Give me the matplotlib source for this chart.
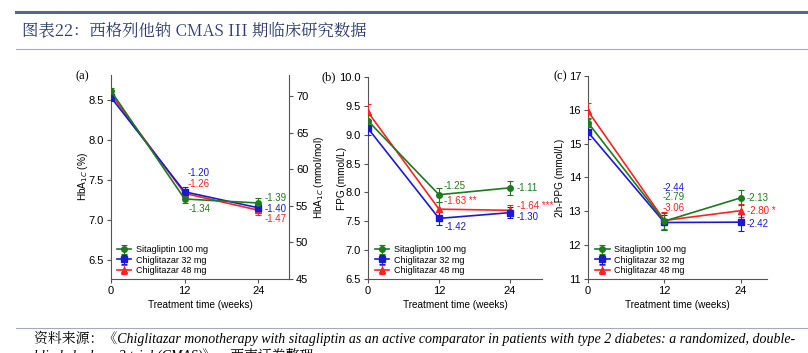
import numpy as np
import matplotlib
matplotlib.use('Agg')
import matplotlib.pyplot as plt

plt.rcParams['font.family'] = ['Liberation Sans', 'DejaVu Sans']

# data
weeks = [0, 12, 24]
series = ['Sitagliptin 100 mg', 'Chiglitazar 32 mg', 'Chiglitazar 48 mg']
colors = ['#1e7a1e', '#1a1ad6', '#ff2222']
markers = ['o', 's', '^']

hba1c = [[8.61, 7.26, 7.21], [8.53, 7.35, 7.15], [8.57, 7.33, 7.12]]
hba1c_err = [[0.04, 0.05, 0.06], [0.04, 0.06, 0.05], [0.04, 0.05, 0.06]]
fpg = [[9.24, 7.96, 8.08], [9.11, 7.55, 7.65], [9.39, 7.71, 7.69]]
fpg_err = [[0.10, 0.12, 0.12], [0.12, 0.11, 0.10], [0.14, 0.12, 0.10]]
ppg = [[15.62, 12.71, 13.40], [15.34, 12.67, 12.68], [15.96, 12.73, 13.02]]
ppg_err = [[0.13, 0.25, 0.22], [0.20, 0.22, 0.25], [0.23, 0.24, 0.20]]

# change labels: (series index, week index, text, dx pt, dy pt)
hba1c_lbl = [(1, 1, '-1.20', 2, 13.5), (2, 1, '-1.26', 2, 6.8), (0, 1, '-1.34', 2.5, -7.2),
             (0, 2, '-1.39', 4.3, 3.6), (1, 2, '-1.40', 4.3, -0.9), (2, 2, '-1.47', 4.3, -6.5)]
fpg_lbl = [(0, 1, '-1.25', 3.6, 6.5), (2, 1, '-1.63 **', 3.6, 5.8), (1, 1, '-1.42', 4, -6),
           (0, 2, '-1.11', 4.8, 0), (2, 2, '-1.64 ***', 4.8, 2.9), (1, 2, '-1.30', 4.8, -2.9)]
ppg_lbl = [(1, 1, '-2.44', -1, 25), (0, 1, '-2.79', -1, 17.2), (2, 1, '-3.06', -1, 9.2),
           (0, 2, '-2.13', 4.3, 0), (2, 2, '-2.80 *', 4.3, 0), (1, 2, '-2.42', 4.3, -1.3)]

W, H = 808, 353
fig = plt.figure(figsize=(W / 100, H / 100), dpi=100)

def px_axes(l, t, r, b):
    return fig.add_axes([l / W, 1 - b / H, (r - l) / W, (b - t) / H])

spine_c = '#555555'

def style_ticks(ax):
    ax.tick_params(labelsize=8, color=spine_c, length=3, width=0.8, pad=2)

def panel(ax, data, err, labels, ylim, yticks, ylabel, xmax, leg_x, lab_x):
    for i in range(3):
        ax.errorbar(weeks, data[i], yerr=err[i], color=colors[i], marker=markers[i],
                    markersize=4, lw=1.2, capsize=2.5, elinewidth=0.8, capthick=0.8,
                    label=series[i], zorder=3 - i * 0.1)
    for si, wi, txt, dx, dy in labels:
        ax.annotate(txt, (weeks[wi], data[si][wi]), xytext=(dx, dy), textcoords='offset points',
                    color=colors[si], fontsize=7, va='center', ha='left')
    ax.set_xlim(0, xmax)
    ax.set_ylim(*ylim)
    ax.set_xticks(weeks)
    ax.set_yticks(yticks)
    ax.set_ylabel(ylabel, fontsize=7.2)
    ax.yaxis.set_label_coords(lab_x, 0.5)
    ax.set_xlabel('Treatment time (weeks)', fontsize=7.2, labelpad=3)
    ax.spines['top'].set_visible(False)
    ax.spines['right'].set_visible(False)
    for s in ax.spines.values():
        s.set_color(spine_c)
        s.set_linewidth(0.8)
    style_ticks(ax)
    ax.legend(loc='lower left', frameon=False, fontsize=6.5, handlelength=1.6,
              handletextpad=0.5, labelspacing=0.15, borderaxespad=0, borderpad=0,
              bbox_to_anchor=(leg_x, 0.02))

ax1 = px_axes(111, 75, 289, 279)
panel(ax1, hba1c, hba1c_err, hba1c_lbl, (6.26, 8.81), [6.5, 7.0, 7.5, 8.0, 8.5],
      'HbA$_{1C}$ (%)', 29, 0.034, -0.118)
ax1r = ax1.twinx()
ax1r.set_ylim(45, 72.9)
ax1r.set_yticks([45, 50, 55, 60, 65, 70])
ax1r.set_ylabel('HbA$_{1C}$ (mmol/mol)', fontsize=7.2)
ax1r.yaxis.set_label_coords(1.13, 0.5)
for k in ['top', 'left', 'bottom']:
    ax1r.spines[k].set_visible(False)
ax1r.spines['right'].set_color(spine_c)
ax1r.spines['right'].set_linewidth(0.8)
style_ticks(ax1r)

ax2 = px_axes(368, 77, 542, 279)
panel(ax2, fpg, fpg_err, fpg_lbl, (6.5, 10.0), [6.5, 7.0, 7.5, 8.0, 8.5, 9.0, 9.5, 10.0],
      'FPG (mmol/L)', 29.4, 0.04, -0.12)

ax3 = px_axes(588, 76, 767, 279)
panel(ax3, ppg, ppg_err, ppg_lbl, (11, 17), [11, 12, 13, 14, 15, 16, 17],
      '2h-PPG (mmol/L)', 28.1, 0.04, -0.128)

# panel tags
for tag, x, y in [('(a)', 76, 76), ('(b)', 321, 77), ('(c)', 554, 76)]:
    fig.text(x / W, 1 - y / H, tag, fontsize=9, family=['Liberation Serif'],
             va='center', ha='left')

# header and footer
fig.add_artist(plt.Line2D([16 / W, 1], [1 - 12 / H] * 2, color='#5b6494', lw=2.2))
fig.add_artist(plt.Line2D([16 / W, 1], [1 - 49 / H] * 2, color='#a3a8c4', lw=0.8))
fig.add_artist(plt.Line2D([16 / W, 1], [1 - 328 / H] * 2, color='#a3a8c4', lw=0.8))
cjk = ['Noto Serif CJK SC', 'Noto Sans CJK SC', 'DejaVu Sans']
src = ['Liberation Serif', 'Noto Serif CJK SC', 'Noto Sans CJK SC']
fig.text(22 / W, 1 - 31 / H, '图表22：西格列他钠 CMAS III 期临床研究数据', fontsize=11.8,
         color='#2b3a6b', family=cjk, va='center')
fig.text(34 / W, 1 - 338 / H,
         '资料来源：《Chiglitazar monotherapy with sitagliptin as an active comparator in patients with type 2 diabetes: a randomized, double-',
         fontsize=10, style='italic', family=src, va='center')
fig.text(34 / W, 1 - 355 / H, 'blinded, phase 3 trial (CMAS)》，西南证券整理',
         fontsize=10, style='italic', family=src, va='center')

fig.savefig('out.png', dpi=100)
